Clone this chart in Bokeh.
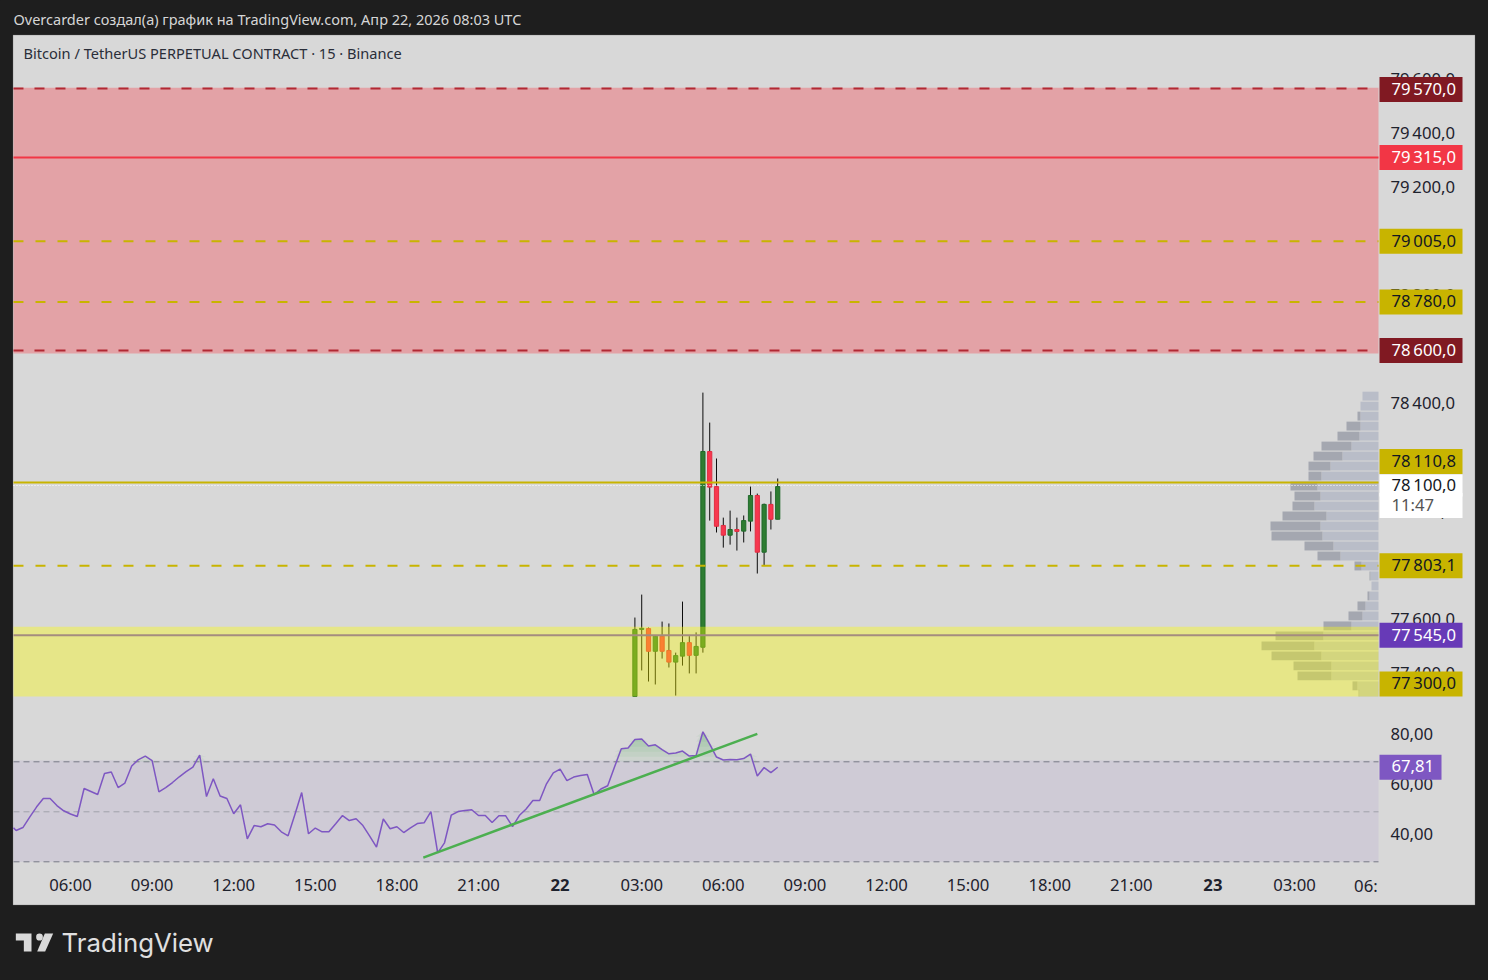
from bokeh.plotting import figure
from bokeh.embed import file_html
from bokeh.resources import INLINE
from bokeh.models import (BoxAnnotation, Label, LinearAxis, Range1d, FixedTicker,
                          PolyAnnotation)

# ---------- data ----------
FIRST_CANDLE_HOUR = 26.75          # hours since Apr 21 00:00
BAR_HOURS = 0.25
opens  = [77319,77567,77570,77486,77542,77489,77446,77468,77518,77471,77501,78226,78096,77952,77916,77937,77931,77968,78063,77853,78030,77975]
closes = [77567,77571,77486,77542,77486,77446,77470,77518,77471,77504,78226,78094,77949,77916,77937,77930,77970,78063,77853,78030,77975,78096]
highs  = [77611,77696,77574,77545,77596,77589,77481,77670,77542,77556,78444,78333,78200,77981,78007,77981,77989,78096,78070,78033,78078,78126]
lows   = [77319,77415,77374,77363,77459,77426,77322,77433,77404,77404,77481,77970,77926,77870,77881,77859,77889,77930,77774,77804,77937,77975]

rsi_left = [43.6,42.5,43.7,47.9,51.9,55.3,55.3,52.5,50.4,49.1,48.1,59.3,58.1,56.9,65.3,65.9,59.7,61.5,68.3,70.9,72.3,70.5,58.0,59.7,61.7,64.0,66.1,67.9,72.7,56.1,63.2,56.3,55.3,49.2,52.8,39.2,44.5,44.0,45.2,44.7,42.0,40.4,48.9,57.7,41.2,43.5,42.0,42.0,45.2,48.5,46.5,47.2,44.5,40.3,35.9,47.1,43.2,44.0,41.7]
rsi_right = [43.6,45.3,45.6,50.1,33.6,37.6,48.7,50.1,50.5,50.8,48.5,48.5,45.7,48.4,48.4,44.1,48.5,51.1,54.5,54.5,61.2,65.6,67.1,62.5,63.9,64.5,64.9,56.9,59.1,60.4,67.9,75.2,75.5,78.9,79.1,76.3,76.8,74.9,73.2,73.5,74.3,72.3,72.5,82.0,77.1,71.9,70.7,70.9,70.8,71.3,73.1,64.3,67.7,65.7,67.81]
rsi_values = rsi_left + rsi_right

trend_hours = [18.97, 31.25]
trend_rsi = [31.7, 81.2]

profile_levels = [78431,78394,78357,78320,78283,78246,78209,78172,78135,78098,78061,78024,77987,77950,77913,77876,77839,77802,77765,77728,77691,77654,77617,77580,77543,77506,77469,77432,77395,77358,77331]
profile_light = [16,18,18,18,19,27,36,48,57,61,58,64,52,58,56,45,38,17,8,7,9,13,16,27,55,64,57,47,47,21,19]
profile_dark  = [0,0,3,14,22,30,29,22,13,27,26,22,44,50,51,29,23,7,1,0,2,8,14,28,48,53,50,38,34,5,1]
profile_heights = [33] * 30 + [25]

price_ticks = [79600,79400,79200,79000,78800,78600,78400,78200,78000,77800,77600,77400]
price_tick_labels = ["79\u2009600,0","79\u2009400,0","79\u2009200,0","79\u2009000,0","78\u2009800,0","78\u2009600,0","78\u2009400,0","78\u2009200,0","78\u2009000,0","77\u2009800,0","77\u2009600,0","77\u2009400,0"]
rsi_ticks = [40, 60, 80]
rsi_tick_labels = ["40,00", "60,00", "80,00"]
time_ticks = [6,9,12,15,18,21,27,30,33,36,39,42,45,51]
time_tick_labels = ["06:00","09:00","12:00","15:00","18:00","21:00","03:00","06:00","09:00","12:00","15:00","18:00","21:00","03:00"]
day_ticks = [24, 48]
day_labels = ["22", "23"]

# ---------- styles ----------
FONT = "Noto Sans"
BG = "#1e1e1e"; PANEL = "#d8d8d8"; EDGE = "#6e6e6e"; INK = "#1e222d"
GOLD = "#c8b400"; DARKRED = "#801922"; RED = "#f23645"; PURPLE = "#673ab7"; RSI = "#7e57c2"
TICK_SIZE = "16.7px"
PX_PER_PRICE = 0.27
PX_PER_RSI = 2.5
X0, X1 = 3.904, 54.088        # left and right edge of the plotting area, in hours
PRICE_BOTTOM = 77318.5        # lower edge of the price pane
TIME_AXIS_AT = 76703.7        # lower edge of the RSI pane, on the price scale

p = figure(width=1488, height=980, x_range=Range1d(3.4265, 58.132), y_range=Range1d(76266.7, 79896.3),
           output_backend="svg", toolbar_location=None, y_axis_location=None, x_axis_location=None,
           min_border_left=0, min_border_right=0, min_border_top=0, min_border_bottom=0,
           background_fill_color=BG, border_fill_color=BG, outline_line_color=None)
p.grid.visible = False
p.extra_x_ranges = {"vol": Range1d(1378, -110)}
p.extra_y_ranges = {"rsi": Range1d(-17.48, 374.52),
                    # the tick texts sit about 2 px above their level in the reference
                    "price_axis": Range1d(76266.7 - 7.4, 79896.3 - 7.4),
                    "rsi_axis": Range1d(-17.48 - 1.2, 374.52 - 1.2)}

def style_axis(ax, ticks, labels, standoff):
    ax.ticker = FixedTicker(ticks=ticks)
    ax.major_label_overrides = dict(zip(ticks, labels))
    ax.axis_line_color = None
    ax.major_tick_line_color = None
    ax.minor_tick_line_color = None
    ax.major_tick_out = 0
    ax.major_label_standoff = standoff
    ax.major_label_text_font = FONT
    ax.major_label_text_font_size = TICK_SIZE
    ax.major_label_text_color = INK

p.add_layout(BoxAnnotation(left=12.5, right=1474.5, top=34.5, bottom=904.5, left_units="canvas", right_units="canvas",
                           top_units="canvas", bottom_units="canvas", fill_color=PANEL, fill_alpha=1,
                           line_color=EDGE, line_width=1, level="underlay"))

# ---------- price pane ----------
totals = [a + b for a, b in zip(profile_light, profile_dark)]
p.hbar(y=profile_levels, left=0, right=profile_light, height=profile_heights, x_range_name="vol", fill_color="#b9bdc8", line_color=None)
p.hbar(y=profile_levels, left=profile_light, right=totals, height=profile_heights, x_range_name="vol", fill_color="#a4a7b0", line_color=None)

hours = [FIRST_CANDLE_HOUR + BAR_HOURS * i for i in range(len(opens))]
p.segment(hours, highs, hours, lows, line_color="#0c0c0c", line_width=1)
up = [c >= o for o, c in zip(opens, closes)]
for flag, fill, edge in ((True, "#2e7d32", "#1f6a2b"), (False, "#f7374f", "#e02c40")):
    idx = [i for i, u in enumerate(up) if u == flag]
    p.vbar(x=[hours[i] for i in idx], bottom=[min(opens[i], closes[i]) for i in idx],
           top=[max(opens[i], closes[i]) for i in idx], width=4.2 / 27.2,
           fill_color=fill, line_color=edge, line_width=1)

p.quad(left=X0, right=X1, bottom=78589, top=79573, fill_color="#fa3e4a", fill_alpha=0.35, line_color=None)
p.quad(left=X0, right=X1, bottom=PRICE_BOTTOM, top=77577, fill_color="#ffff00", fill_alpha=0.37, line_color=None)

for level, color, dash, width in [(79570, "#b22833", "10 11", 2), (78600, "#b22833", "10 11", 2),
                                  (79315, RED, "solid", 2), (79005, GOLD, "10 12", 2),
                                  (78780, GOLD, "10 12", 2), (77803.1, GOLD, "10 12", 2),
                                  (78100, "#ffffff", "1 2", 1), (78110.8, GOLD, "solid", 2),
                                  (77545, "#a48c7f", "solid", 2)]:
    p.line([X0, X1], [level, level], line_color=color, line_dash=dash, line_width=width)

pa = LinearAxis(y_range_name="price_axis", fixed_location=X1)
p.add_layout(pa, "right")
style_axis(pa, price_ticks, price_tick_labels, 12)

def tag(text, y, bg, fg, halfheight=12.5, scale=PX_PER_PRICE, right=1462, tx=1391, range_name="default"):
    d = halfheight / scale
    p.add_layout(BoxAnnotation(left=1379, right=right, left_units="canvas", right_units="canvas", y_range_name=range_name,
                               top=y + d, bottom=y - d, fill_color=bg, fill_alpha=1, line_color=None, level="overlay"))
    p.add_layout(Label(x=tx, y=y, x_units="canvas", y_offset=1, y_range_name=range_name, text=text, text_font=FONT, text_font_size=TICK_SIZE,
                       text_color=fg, text_baseline="middle", level="overlay"))

tag("79\u2009570,0", 79567, DARKRED, "#ffffff")
tag("79\u2009315,0", 79315, RED, "#ffffff")
tag("79\u2009005,0", 79005, GOLD, "#131722")
tag("78\u2009780,0", 78780, GOLD, "#131722")
tag("78\u2009600,0", 78600, DARKRED, "#ffffff")
tag("78\u2009110,8", 78189, GOLD, "#131722")
tag("78\u2009100,0", 78100, "#ffffff", "#131722", halfheight=11)
tag("11:47", 78026, "#ffffff", "#555555", halfheight=12.5)
tag("77\u2009803,1", 77803.1, GOLD, "#131722")
tag("77\u2009545,0", 77545, PURPLE, "#ffffff")
tag("77\u2009300,0", 77365, GOLD, "#131722")

p.add_layout(Label(x=13, y=18.5, x_units="canvas", y_units="canvas", text="Overcarder создал(а) график на TradingView.com, Апр 22, 2026 08:03 UTC",
                   text_font=FONT, text_font_size="14.5px", text_color="#d6d6d6", text_baseline="middle"))
p.add_layout(Label(x=23, y=52.5, x_units="canvas", y_units="canvas", text="Bitcoin / TetherUS PERPETUAL CONTRACT · 15 · Binance",
                   text_font=FONT, text_font_size="14.6px", text_color="#2a2e39", text_baseline="middle"))

# ---------- RSI pane ----------
p.quad(left=X0, right=X1, bottom=30, top=70.5, fill_color=RSI, fill_alpha=0.1, line_color=None, y_range_name="rsi")
for level, color in ((70, "#787b86"), (50, "#a0a2aa"), (30, "#787b86")):
    p.line([X0, X1], [level, level], line_color=color, line_dash="6 4", line_width=1, y_range_name="rsi")

rsi_hours = [max(X0, 32.0 - BAR_HOURS * (len(rsi_values) - 1 - i)) for i in range(len(rsi_values))]
for floor in (70, 72, 74, 76, 78, 80):
    p.varea(x=rsi_hours, y1=[floor] * len(rsi_hours), y2=[max(v, floor) for v in rsi_values],
            fill_color="#4caf50", fill_alpha=0.07, y_range_name="rsi")
p.line(rsi_hours, rsi_values, line_color=RSI, line_width=1.5, y_range_name="rsi")
p.line(trend_hours, trend_rsi, line_color="#4caf50", line_width=2.5, y_range_name="rsi")

ra = LinearAxis(y_range_name="rsi_axis", fixed_location=X1)
p.add_layout(ra, "right")
style_axis(ra, rsi_ticks, rsi_tick_labels, 12)
tag("67,81", 67.81, RSI, "#ffffff", scale=PX_PER_RSI, right=1441, range_name="rsi")

# ---------- time axis ----------
xa = LinearAxis(fixed_location=TIME_AXIS_AT)
p.add_layout(xa, "below")
style_axis(xa, time_ticks, time_tick_labels, 10)
for h, text in zip(day_ticks, day_labels):
    p.add_layout(Label(x=h, y=884.5, y_units="canvas", text=text, text_font=FONT, text_font_size=TICK_SIZE, text_font_style="bold",
                       text_color=INK, text_align="center", text_baseline="middle"))
p.add_layout(Label(x=54, y=884.5, y_units="canvas", x_offset=-22, text="06:", text_font=FONT, text_font_size=TICK_SIZE,
                   text_color=INK, text_baseline="middle"))

# ---------- TradingView mark and name under the panel ----------
oy = 860
def poly(pts):
    return PolyAnnotation(xs=[a / 3 for a, _ in pts], ys=[oy + b / 3 for _, b in pts], xs_units="canvas", ys_units="canvas",
                          fill_color="#d9d9d9", fill_alpha=1, line_color=None)
p.add_layout(poly([(46, 219), (93, 219), (93, 273), (70, 273), (70, 240), (46, 240)]))
p.add_layout(poly([(133, 219), (158, 219), (134, 273), (110, 273)]))
p.add_layout(BoxAnnotation(left=107 / 3, right=127 / 3, top=oy + 219 / 3, bottom=oy + 240 / 3, left_units="canvas", right_units="canvas",
                           top_units="canvas", bottom_units="canvas", fill_color="#d9d9d9", fill_alpha=1, line_color=None, border_radius=4))
p.add_layout(Label(x=61, y=942, x_units="canvas", y_units="canvas", text="TradingView", text_font="Inter", text_font_style="normal",
                   text_font_size="25.8px", text_color="#e0e0e0", text_baseline="middle"))

html = file_html(p, INLINE, title="BTCUSDT.P")
html = html.replace("</head>", "<style>html,body{background:#1e1e1e;margin:0;padding:0;overflow:hidden;}</style></head>", 1)
open("out.html", "w").write(html)
